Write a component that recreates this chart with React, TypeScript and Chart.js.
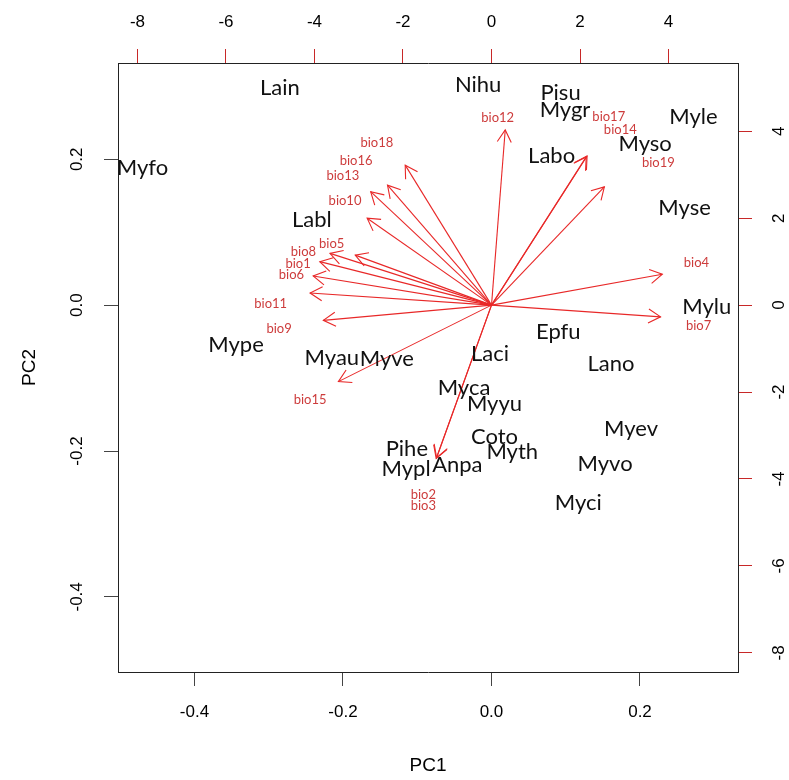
import React, { useEffect, useRef } from "react";
import { Chart, registerables } from "chart.js";

Chart.register(...registerables);

// ---- data ----
const sampleNames = ["Myfo","Lain","Nihu","Pisu","Mygr","Myle","Myso","Labo","Myse","Labl","Mylu","Epfu","Mype","Myau","Myve","Laci","Lano","Myca","Myyu","Coto","Myth","Pihe","Mypl","Anpa","Myev","Myvo","Myci"];
const pc1 = [-0.470,-0.285,-0.018,0.093,0.099,0.272,0.207,0.081,0.260,-0.242,0.290,0.090,-0.344,-0.215,-0.141,-0.002,0.161,-0.037,0.004,0.004,0.028,-0.114,-0.115,-0.046,0.188,0.153,0.117];
const pc2 = [0.188,0.298,0.302,0.291,0.268,0.258,0.221,0.204,0.134,0.117,-0.003,-0.037,-0.055,-0.073,-0.074,-0.067,-0.080,-0.113,-0.136,-0.181,-0.201,-0.197,-0.224,-0.219,-0.170,-0.217,-0.271];

const varNames = ["bio1","bio2","bio3","bio4","bio5","bio6","bio7","bio8","bio9","bio10","bio11","bio12","bio13","bio14","bio15","bio16","bio17","bio18","bio19"];
const loadX = [-3.88,-1.25,-1.24,3.86,-3.08,-4.03,3.82,-3.65,-3.80,-2.81,-4.10,0.31,-2.73,2.14,-3.46,-2.35,2.16,-1.95,2.55];
const loadY = [1.00,-3.53,-3.51,0.71,1.15,0.67,-0.27,1.19,-0.35,2.00,0.28,4.03,2.61,3.41,-1.76,2.76,3.43,3.22,2.72];
const varLabelX = [-4.37,-1.54,-1.54,4.63,-3.61,-4.52,4.68,-4.25,-4.80,-3.31,-4.99,0.14,-3.36,2.91,-4.10,-3.06,2.65,-2.59,3.77];
const varLabelY = [0.94,-4.36,-4.62,0.97,1.42,0.69,-0.48,1.23,-0.55,2.40,0.04,4.31,2.97,4.04,-2.17,3.31,4.33,3.73,3.27];

const pcTicks = [-0.4, -0.2, 0.0, 0.2];
const loadTicks = [-8, -6, -4, -2, 0, 2, 4];
const pcLim = [-0.503, 0.332];
const loadLim = [-8.44, 5.57];
const xTitle = "PC1";
const yTitle = "PC2";

const ARROW_RED = "rgb(232,40,40)";
const LABEL_RED = "rgb(205,60,60)";
const AXIS_FONT = "'Liberation Sans', Arial, sans-serif";
const LABEL_FONT = "Lato, 'Open Sans', sans-serif";

const biplotPlugin = {
  id: "biplotPlugin",
  afterDatasetsDraw(chart: any) {
    const ctx = chart.ctx;
    const area = chart.chartArea;
    const nArrows = varNames.length;
    // arrowheads
    ctx.save();
    ctx.strokeStyle = ARROW_RED;
    ctx.lineWidth = 1.1;
    for (let i = 0; i < nArrows; i++) {
      const meta = chart.getDatasetMeta(i);
      const p0 = meta.data[0];
      const p1 = meta.data[1];
      if (!p0 || !p1) continue;
      const th = Math.atan2(p1.y - p0.y, p1.x - p0.x);
      const L = 14;
      const a = Math.PI / 6;
      ctx.beginPath();
      ctx.moveTo(p1.x - L * Math.cos(th - a), p1.y - L * Math.sin(th - a));
      ctx.lineTo(p1.x, p1.y);
      ctx.lineTo(p1.x - L * Math.cos(th + a), p1.y - L * Math.sin(th + a));
      ctx.stroke();
    }
    ctx.restore();

    // variable labels
    const vMeta = chart.getDatasetMeta(nArrows);
    ctx.save();
    ctx.fillStyle = LABEL_RED;
    ctx.font = "13px " + LABEL_FONT;
    ctx.textAlign = "center";
    ctx.textBaseline = "middle";
    vMeta.data.forEach((pt: any, i: number) => {
      ctx.fillText(varNames[i], pt.x, pt.y);
    });
    ctx.restore();

    // sample labels
    const sMeta = chart.getDatasetMeta(nArrows + 1);
    ctx.save();
    ctx.fillStyle = "#111";
    ctx.font = "22px " + LABEL_FONT;
    ctx.textAlign = "center";
    ctx.textBaseline = "middle";
    sMeta.data.forEach((pt: any, i: number) => {
      ctx.fillText(sampleNames[i], pt.x, pt.y);
    });
    ctx.restore();

    // rotated y tick labels
    ctx.save();
    ctx.fillStyle = "#000";
    ctx.font = "17px " + AXIS_FONT;
    ctx.textAlign = "center";
    ctx.textBaseline = "middle";
    const yS = chart.scales.y;
    pcTicks.forEach((v) => {
      const py = yS.getPixelForValue(v);
      ctx.save();
      ctx.translate(area.left - 41, py);
      ctx.rotate(-Math.PI / 2);
      ctx.fillText(v.toFixed(1), 0, 0);
      ctx.restore();
    });
    const y2S = chart.scales.y2;
    loadTicks.forEach((v) => {
      const py = y2S.getPixelForValue(v);
      ctx.save();
      ctx.translate(area.right + 41, py);
      ctx.rotate(-Math.PI / 2);
      ctx.fillText(String(v), 0, 0);
      ctx.restore();
    });
    // axis titles
    ctx.font = "19px " + AXIS_FONT;
    ctx.fillText(xTitle, (area.left + area.right) / 2, 766);
    ctx.save();
    ctx.translate(30, (area.top + area.bottom) / 2);
    ctx.rotate(-Math.PI / 2);
    ctx.fillText(yTitle, 0, 0);
    ctx.restore();
    ctx.restore();
  },
};

export default function App() {
  const ref = useRef<HTMLCanvasElement | null>(null);
  useEffect(() => {
    if (!ref.current) return;
    const arrowSets = varNames.map((n, i) => ({
      type: "scatter" as const,
      label: n,
      data: [
        { x: 0, y: 0 },
        { x: loadX[i], y: loadY[i] },
      ],
      xAxisID: "x2",
      yAxisID: "y2",
      showLine: true,
      borderColor: ARROW_RED,
      borderWidth: 1.1,
      pointRadius: 0,
      fill: false,
    }));
    const chart = new Chart(ref.current, {
      type: "scatter",
      data: {
        datasets: [
          ...arrowSets,
          {
            label: "variables",
            data: varNames.map((_, i) => ({ x: varLabelX[i], y: varLabelY[i] })),
            xAxisID: "x2",
            yAxisID: "y2",
            pointRadius: 0,
          },
          {
            label: "samples",
            data: sampleNames.map((_, i) => ({ x: pc1[i], y: pc2[i] })),
            xAxisID: "x",
            yAxisID: "y",
            pointRadius: 0,
          },
        ] as any,
      },
      options: {
        animation: false,
        responsive: true,
        maintainAspectRatio: false,
        devicePixelRatio: 1,
        layout: { padding: 0 },
        plugins: { legend: { display: false }, tooltip: { enabled: false } },
        scales: {
          x: {
            type: "linear",
            position: "bottom",
            min: pcLim[0],
            max: pcLim[1],
            afterBuildTicks: (s: any) => {
              s.ticks = pcTicks.map((v) => ({ value: v }));
            },
            afterFit: (s: any) => {
              s.height = 108;
            },
            ticks: {
              callback: (v: any) => Number(v).toFixed(1),
              font: { family: AXIS_FONT, size: 17 },
              color: "#000",
              padding: 16,
              maxRotation: 0,
              autoSkip: false,
            },
            grid: { drawOnChartArea: false, drawTicks: true, tickLength: 14, tickColor: "#444" },
            border: { display: true, color: "#222", width: 1 },
          },
          y: {
            type: "linear",
            position: "left",
            min: pcLim[0],
            max: pcLim[1],
            afterBuildTicks: (s: any) => {
              s.ticks = pcTicks.map((v) => ({ value: v }));
            },
            afterFit: (s: any) => {
              s.width = 118;
            },
            ticks: { display: false },
            grid: { drawOnChartArea: false, drawTicks: true, tickLength: 14, tickColor: "#444" },
            border: { display: true, color: "#222", width: 1 },
          },
          x2: {
            type: "linear",
            position: "top",
            min: loadLim[0],
            max: loadLim[1],
            afterBuildTicks: (s: any) => {
              s.ticks = loadTicks.map((v) => ({ value: v }));
            },
            afterFit: (s: any) => {
              s.height = 63;
            },
            ticks: {
              callback: (v: any) => String(v),
              font: { family: AXIS_FONT, size: 17 },
              color: "#000",
              padding: 16,
              maxRotation: 0,
              autoSkip: false,
            },
            grid: { drawOnChartArea: false, drawTicks: true, tickLength: 14, tickColor: "rgb(200,40,40)" },
            border: { display: true, color: "#222", width: 1 },
          },
          y2: {
            type: "linear",
            position: "right",
            min: loadLim[0],
            max: loadLim[1],
            afterBuildTicks: (s: any) => {
              s.ticks = loadTicks.map((v) => ({ value: v }));
            },
            afterFit: (s: any) => {
              s.width = 51;
            },
            ticks: { display: false },
            grid: { drawOnChartArea: false, drawTicks: true, tickLength: 14, tickColor: "rgb(200,40,40)" },
            border: { display: true, color: "#222", width: 1 },
          },
        },
      } as any,
      plugins: [biplotPlugin],
    });
    return () => chart.destroy();
  }, []);

  return (
    <div style={{ position: "absolute", left: 0, top: 0, width: 789, height: 780, background: "#fff" }}>
      <canvas ref={ref} />
    </div>
  );
}
